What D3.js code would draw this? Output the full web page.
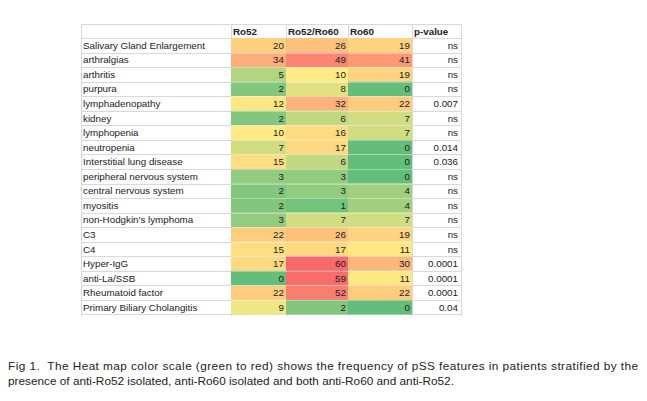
<!DOCTYPE html>
<html>
<head>
<meta charset="utf-8">
<script src="https://cdn.jsdelivr.net/npm/d3@7"></script>
<style>
  html, body { margin: 0; padding: 0; background: #fff; }
  svg { display: block; }
  text { font-family: "Liberation Sans", Arial, sans-serif; }
</style>
</head>
<body>
<svg id="chart" width="647" height="401"></svg>
<script>
const features = [
  "Salivary Gland Enlargement", "arthralgias", "arthritis", "purpura",
  "lymphadenopathy", "kidney", "lymphopenia", "neutropenia",
  "Interstitial lung disease", "peripheral nervous system",
  "central nervous system", "myositis", "non-Hodgkin's lymphoma",
  "C3", "C4", "Hyper-IgG", "anti-La/SSB", "Rheumatoid factor",
  "Primary Biliary Cholangitis"
];
const columns = ["Ro52", "Ro52/Ro60", "Ro60"];
const ro52     = [20, 34, 5, 2, 12, 2, 10, 7, 15, 3, 2, 2, 3, 22, 15, 17, 0, 22, 9];
const ro52ro60 = [26, 49, 10, 8, 32, 6, 16, 17, 6, 3, 3, 1, 7, 26, 17, 60, 59, 52, 2];
const ro60     = [19, 41, 19, 0, 22, 7, 7, 0, 0, 0, 4, 4, 7, 19, 11, 30, 11, 22, 0];
const pValues  = ["ns", "ns", "ns", "ns", "0.007", "ns", "ns", "0.014", "0.036",
                  "ns", "ns", "ns", "ns", "ns", "ns", "0.0001", "0.0001", "0.0001", "0.04"];
const pHeader = "p-value";
const captionLines = [
  "Fig 1.  The Heat map color scale (green to red) shows the frequency of pSS features in patients stratified by the",
  "presence of anti-Ro52 isolated, anti-Ro60 isolated and both anti-Ro60 and anti-Ro52."
];

const seriesByColumn = { "Ro52": ro52, "Ro52/Ro60": ro52ro60, "Ro60": ro60 };

const svg = d3.select("#chart");

// layout
const tableLeft = 81, labelRight = 231, tableRight = 461;
const headerTop = 24, headerBottom = 38, tableBottom = 314.5;
const allCols = columns.concat([pHeader]);
const colLeft = d3.scaleOrdinal().domain(allCols).range([231, 286, 348, 412]);
const colRight = d3.scaleOrdinal().domain(allCols).range([286, 348, 412, 461]);

const y = d3.scaleBand().domain(features).range([headerBottom, tableBottom]).padding(0);
const color = d3.scaleLinear().domain([0, 10, 60])
  .range(["#63BE7B", "#FFEB84", "#F8696B"]).interpolate(d3.interpolateRgb);

const gridColor = "#D9D9D9";
const grid = svg.append("g");
const hLines = [headerTop, headerBottom].concat(features.map(f => y(f) + y.bandwidth()));
grid.selectAll("line.h").data(hLines).join("line")
  .attr("x1", tableLeft).attr("x2", tableRight)
  .attr("y1", d => Math.round(d) + 0.5).attr("y2", d => Math.round(d) + 0.5)
  .attr("stroke", gridColor).attr("stroke-width", 1);
const vLines = [tableLeft, labelRight].concat(allCols.map(c => colRight(c)));
grid.selectAll("line.v").data(vLines).join("line")
  .attr("x1", d => d + 0.5).attr("x2", d => d + 0.5)
  .attr("y1", headerTop).attr("y2", Math.round(tableBottom) + 1)
  .attr("stroke", gridColor).attr("stroke-width", 1);

// heat cells
const cells = [];
columns.forEach(c => features.forEach((f, i) => cells.push({ col: c, feat: f, v: seriesByColumn[c][i] })));

svg.append("g").selectAll("rect").data(cells).join("rect")
  .attr("x", d => colLeft(d.col))
  .attr("y", d => y(d.feat))
  .attr("width", d => colRight(d.col) - colLeft(d.col))
  .attr("height", y.bandwidth())
  .attr("fill", d => color(d.v));

svg.append("g").selectAll("line").data(features.slice(0, -1)).join("line")
  .attr("x1", colLeft(columns[0])).attr("x2", colRight(columns[2]))
  .attr("y1", f => Math.round(y(f) + y.bandwidth()) + 0.5)
  .attr("y2", f => Math.round(y(f) + y.bandwidth()) + 0.5)
  .attr("stroke", "rgba(255,255,255,0.35)").attr("stroke-width", 1);

const textColor = "#222";
const fs = 9.8;

svg.append("g").selectAll("text").data(allCols).join("text")
  .attr("x", c => colLeft(c) + 2)
  .attr("y", (headerTop + headerBottom) / 2 + 3.5)
  .attr("font-size", fs).attr("font-weight", "bold").attr("fill", textColor)
  .text(c => c);

svg.append("g").selectAll("text").data(features).join("text")
  .attr("x", tableLeft + 2)
  .attr("y", f => y(f) + y.bandwidth() / 2 + 3.5)
  .attr("font-size", fs).attr("fill", textColor)
  .text(f => f);

svg.append("g").selectAll("text").data(cells).join("text")
  .attr("x", d => colRight(d.col) - 2)
  .attr("y", d => y(d.feat) + y.bandwidth() / 2 + 3.5)
  .attr("text-anchor", "end")
  .attr("font-size", fs).attr("fill", textColor)
  .text(d => d.v);

svg.append("g").selectAll("text").data(features).join("text")
  .attr("x", colRight(pHeader) - 3)
  .attr("y", f => y(f) + y.bandwidth() / 2 + 3.5)
  .attr("text-anchor", "end")
  .attr("font-size", fs).attr("fill", textColor)
  .text((f, i) => pValues[i]);

// caption
const cap = svg.append("g");
cap.append("text")
  .attr("x", 8).attr("y", 370)
  .attr("font-size", 11.8).attr("fill", "#222")
  .style("white-space", "pre")
  .attr("textLength", 630).attr("lengthAdjust", "spacing")
  .text(captionLines[0]);
cap.append("text")
  .attr("x", 8).attr("y", 385)
  .attr("font-size", 11.8).attr("fill", "#222")
  .style("white-space", "pre")
  .text(captionLines[1]);
</script>
</body>
</html>
